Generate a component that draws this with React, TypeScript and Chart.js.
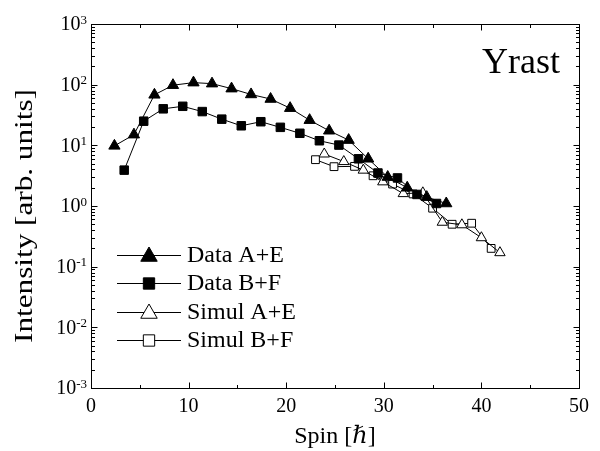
import { useEffect, useRef } from 'react';
import { Chart, registerables } from 'chart.js';

Chart.register(...registerables);

const FONT = '"Liberation Serif", "Times New Roman", "DejaVu Serif", serif';

// Data A+E (filled triangles)
const aeSpin = [2.4, 4.4, 6.5, 8.4, 10.5, 12.4, 14.4, 16.4, 18.4, 20.4, 22.4, 24.4, 26.4, 28.4, 30.4, 32.4, 34.4, 36.4];
const aeIntensity = [9.8, 15, 68, 98, 108, 104, 86, 69, 58, 41, 26, 17.4, 12.2, 6.0, 3.0, 2.0, 1.4, 1.1];

// Data B+F (filled squares)
const bfSpin = [3.4, 5.4, 7.4, 9.4, 11.4, 13.4, 15.4, 17.4, 19.4, 21.4, 23.4, 25.4, 27.4, 29.4, 31.4, 33.4, 35.4];
const bfIntensity = [3.9, 25, 40, 44, 36, 27, 21, 24.5, 19.8, 15.8, 11.9, 10.1, 6.0, 3.5, 2.9, 1.55, 1.1];

// Simul A+E (open triangles)
const simAeSpin = [23.9, 25.9, 27.9, 29.9, 32.0, 34.0, 36.0, 38.0, 40.0, 41.9];
const simAeIntensity = [7.2, 5.4, 3.9, 2.5, 1.6, 1.65, 0.54, 0.49, 0.3, 0.17];

// Simul B+F (open squares)
const simBfSpin = [23.0, 24.9, 27.0, 28.9, 30.9, 33.0, 35.0, 37.0, 39.0, 41.0];
const simBfIntensity = [5.8, 4.45, 4.5, 3.15, 2.3, 1.58, 0.92, 0.5, 0.52, 0.2];

const seriesLabels = ['Data A+E', 'Data B+F', 'Simul A+E', 'Simul B+F'];
const xTicks = [0, 10, 20, 30, 40, 50];
const xMinorStep = 5;
const yDecades = [-3, -2, -1, 0, 1, 2, 3];
const annotationText = 'Yrast';
const xTitle = 'Spin [\u210F]';
const yTitle = 'Intensity [arb. units]';

const toPoints = (xs: number[], ys: number[]) => xs.map((x, i) => ({ x, y: ys[i] }));

function drawMarker(ctx: CanvasRenderingContext2D, style: string, x: number, y: number, r: number, filled: boolean) {
  ctx.beginPath();
  if (style === 'triangle') {
    ctx.moveTo(x, y - r);
    ctx.lineTo(x + 0.866 * r, y + 0.5 * r);
    ctx.lineTo(x - 0.866 * r, y + 0.5 * r);
    ctx.closePath();
  } else {
    const s = Math.SQRT1_2 * r;
    ctx.rect(x - s, y - s, 2 * s, 2 * s);
  }
  ctx.fillStyle = filled ? '#000' : '#fff';
  ctx.fill();
  ctx.lineWidth = 1;
  ctx.strokeStyle = '#000';
  ctx.stroke();
}

const decorPlugin = {
  id: 'decor',
  afterDraw(chart: any) {
    const { ctx, chartArea: a, scales } = chart;
    const xs = scales.x;
    const ys = scales.y;
    ctx.save();
    ctx.strokeStyle = '#000';
    ctx.lineWidth = 1;
    const L = Math.round(a.left) + 0.5;
    const R = Math.round(a.right) + 0.5;
    const T = Math.round(a.top) + 0.5;
    const B = Math.round(a.bottom) + 0.5;
    ctx.strokeRect(L, T, R - L, B - T);
    ctx.beginPath();
    for (let v = xTicks[0]; v <= xTicks[xTicks.length - 1]; v += xMinorStep) {
      const px = Math.round(xs.getPixelForValue(v)) + 0.5;
      const len = v % 10 === 0 ? 6 : 3.5;
      ctx.moveTo(px, B); ctx.lineTo(px, B - len);
      ctx.moveTo(px, T); ctx.lineTo(px, T + len);
    }
    for (const d of yDecades) {
      for (let m = 1; m <= 9; m++) {
        if (d === yDecades[yDecades.length - 1] && m > 1) break;
        const py = Math.round(ys.getPixelForValue(m * Math.pow(10, d))) + 0.5;
        const len = m === 1 ? 6 : 3.5;
        ctx.moveTo(L, py); ctx.lineTo(L + len, py);
        ctx.moveTo(R, py); ctx.lineTo(R - len, py);
      }
    }
    ctx.stroke();

    // y tick labels 10^n
    ctx.fillStyle = '#000';
    const rightEdge = 87;
    for (const d of yDecades) {
      const py = ys.getPixelForValue(Math.pow(10, d));
      const exp = String(d);
      ctx.font = `13px ${FONT}`;
      const ew = ctx.measureText(exp).width;
      ctx.textAlign = 'left';
      ctx.textBaseline = 'alphabetic';
      ctx.fillText(exp, rightEdge - ew, py - 0.5);
      ctx.font = `20px ${FONT}`;
      ctx.textAlign = 'right';
      ctx.textBaseline = 'middle';
      ctx.fillText('10', rightEdge - ew, py + 1);
    }

    // y axis title
    ctx.save();
    ctx.translate(25.5, 216);
    ctx.rotate(-Math.PI / 2);
    ctx.scale(1.2, 1);
    ctx.font = `26px ${FONT}`;
    ctx.textAlign = 'center';
    ctx.textBaseline = 'middle';
    ctx.fillText(yTitle, 0, 0);
    ctx.restore();

    // annotation
    ctx.font = `36px ${FONT}`;
    ctx.textAlign = 'right';
    ctx.textBaseline = 'alphabetic';
    ctx.fillText(annotationText, 560, 73);

    // legend
    const rowY = [255, 283, 312, 340];
    chart.data.datasets.forEach((ds: any, i: number) => {
      const y = rowY[i];
      ctx.beginPath();
      ctx.moveTo(117, y + 0.5);
      ctx.lineTo(181, y + 0.5);
      ctx.lineWidth = 1;
      ctx.strokeStyle = '#000';
      ctx.stroke();
      const filled = ds.pointBackgroundColor === '#000';
      const r = ds.pointStyle === 'triangle' ? 9.5 : 8;
      drawMarker(ctx, ds.pointStyle, 149, y + (ds.pointStyle === 'triangle' ? 1.5 : 0.5), r, filled);
      ctx.fillStyle = '#000';
      ctx.font = `24px ${FONT}`;
      ctx.textAlign = 'left';
      ctx.textBaseline = 'middle';
      ctx.fillText(ds.label, 187, y + 1);
    });
    ctx.restore();
  },
};

export default function App() {
  const ref = useRef<HTMLCanvasElement | null>(null);
  useEffect(() => {
    document.body.style.margin = '0';
    const canvas = ref.current;
    if (!canvas) return;
    const mk = (label: string, xs: number[], ys: number[], style: string, filled: boolean, r: number) => ({
      label,
      data: toPoints(xs, ys),
      borderColor: '#000',
      borderWidth: 1,
      pointStyle: style,
      pointRadius: r,
      pointBorderWidth: 1,
      pointBorderColor: '#000',
      pointBackgroundColor: filled ? '#000' : '#fff',
      tension: 0,
      fill: false,
      showLine: true,
    });
    const chart = new Chart(canvas, {
      type: 'line',
      data: {
        datasets: [
          mk(seriesLabels[0], aeSpin, aeIntensity, 'triangle', true, 6.5),
          mk(seriesLabels[1], bfSpin, bfIntensity, 'rect', true, 6),
          mk(seriesLabels[2], simAeSpin, simAeIntensity, 'triangle', false, 6),
          mk(seriesLabels[3], simBfSpin, simBfIntensity, 'rect', false, 5.5),
        ] as any,
      },
      options: {
        responsive: false,
        animation: false,
        layout: { padding: { top: 24, right: 21, bottom: 0, left: 0 } },
        plugins: { legend: { display: false }, tooltip: { enabled: false } },
        scales: {
          x: {
            type: 'linear',
            min: xTicks[0],
            max: xTicks[xTicks.length - 1],
            grid: { display: false, drawTicks: false },
            border: { display: false },
            afterBuildTicks: (s: any) => { s.ticks = xTicks.map((v) => ({ value: v })); },
            ticks: { color: '#000', font: { family: FONT, size: 20 }, padding: 7, maxRotation: 0, autoSkip: false },
            title: { display: true, text: xTitle, color: '#000', font: { family: FONT, size: 24 }, padding: { top: 0, bottom: 0 } },
            afterFit: (s: any) => { s.height = 63; },
          },
          y: {
            type: 'logarithmic',
            min: Math.pow(10, yDecades[0]),
            max: Math.pow(10, yDecades[yDecades.length - 1]),
            grid: { display: false, drawTicks: false },
            border: { display: false },
            ticks: { display: false },
            title: { display: false },
            afterFit: (s: any) => { s.width = 91; },
          },
        },
      } as any,
      plugins: [decorPlugin],
    });
    return () => chart.destroy();
  }, []);
  return <canvas ref={ref} width={600} height={451} style={{ display: 'block' }} />;
}
